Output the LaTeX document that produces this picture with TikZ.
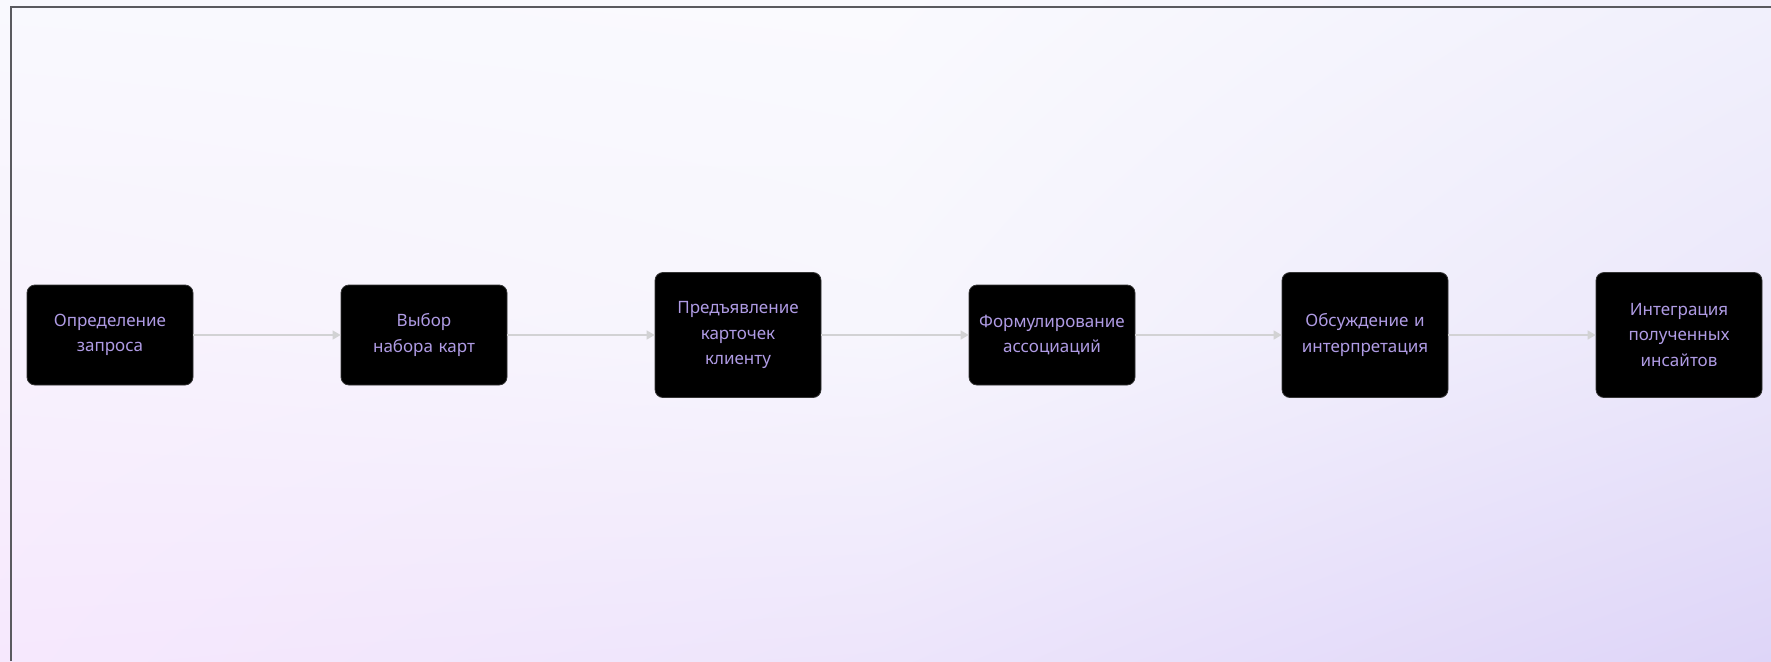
\documentclass[tikz,border=0pt]{standalone}
\usepackage{fontspec}
\setmainfont{Noto Sans}
\usetikzlibrary{arrows.meta,shadings}
\definecolor{txt}{RGB}{175,155,228}
\definecolor{cTL}{RGB}{249,249,254}
\definecolor{cTM}{RGB}{250,250,254}
\definecolor{cTR}{RGB}{241,240,252}
\definecolor{cML}{RGB}{248,242,253}
\definecolor{cC}{RGB}{247,246,253}
\definecolor{cMR}{RGB}{235,231,250}
\definecolor{cBL}{RGB}{246,232,253}
\definecolor{cBM}{RGB}{237,229,251}
\definecolor{cBR}{RGB}{222,213,248}
\definecolor{frame}{RGB}{90,90,95}
\definecolor{arrowc}{RGB}{210,210,212}
\begin{document}
\begin{tikzpicture}[x=1pt,y=-1pt,
  stepbox/.style={fill=black, draw=black!80, line width=0.8pt, rounded corners=8pt,
    minimum width=166pt, text width=160pt, align=center, text=txt,
    font=\fontsize{17}{25.5}\selectfont, inner sep=0pt},
  flow/.style={draw=arrowc, line width=1.6pt, -{Triangle[length=8pt,width=9pt]}}]
\useasboundingbox (0,0) rectangle (1771,661);
\shade[upper left=cTL, upper right=cTM, lower left=cML, lower right=cC] (0,0) rectangle (886,331);
\shade[upper left=cTM, upper right=cTR, lower left=cC, lower right=cMR] (885,0) rectangle (1771,331);
\shade[upper left=cML, upper right=cC, lower left=cBL, lower right=cBM] (0,330) rectangle (886,661);
\shade[upper left=cC, upper right=cMR, lower left=cBM, lower right=cBR] (885,330) rectangle (1771,661);
\draw[frame, line width=2.2pt] (11,661) -- (11,7) -- (1771,7);
\node[stepbox, minimum height=100pt] (n1) at (110,335) {Определение\\запроса};
\node[stepbox, minimum height=100pt] (n2) at (424,335) {Выбор\\набора карт};
\node[stepbox, minimum height=125pt] (n3) at (738,335) {Предъявление\\карточек\\клиенту};
\node[stepbox, minimum height=100pt] (n4) at (1052,335) {Формулирование\\ассоциаций};
\node[stepbox, minimum height=125pt] (n5) at (1365,335) {Обсуждение и\\интерпретация};
\node[stepbox, minimum height=125pt] (n6) at (1679,335) {Интеграция\\полученных\\инсайтов};
\draw[flow] (n1) -- (n2);
\draw[flow] (n2) -- (n3);
\draw[flow] (n3) -- (n4);
\draw[flow] (n4) -- (n5);
\draw[flow] (n5) -- (n6);
\end{tikzpicture}
\end{document}
